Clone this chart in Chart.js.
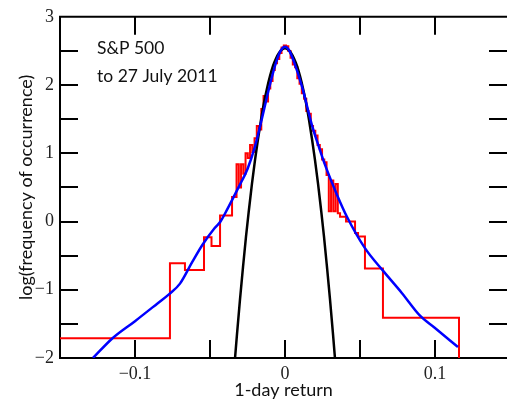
<!DOCTYPE html>
<html>
<head>
<meta charset="utf-8">
<script src="https://cdn.jsdelivr.net/npm/chart.js@4"></script>
<style>
  html, body { margin: 0; padding: 0; background: #fff; }
  #wrap { width: 507px; height: 404px; }
</style>
</head>
<body>
<div id="wrap"><canvas id="c" width="507" height="404"></canvas></div>
<script>
// ------------------------------
// DATA
// ------------------------------

// red histogram: left bin edges and heights (last edge closes the final bin)
const histEdges = [-0.2, -0.0767, -0.0667, -0.054, -0.049, -0.0433,
    -0.0353, -0.0338, -0.0323, -0.0308, -0.0293, -0.0278, -0.0263, -0.0248, -0.0233, -0.0218,
    -0.0203, -0.0188, -0.0173, -0.0158, -0.0143, -0.0128, -0.0113, -0.0098, -0.0083, -0.0068,
    -0.0053, -0.0038, -0.0023, -0.0008, 0.0007, 0.0022, 0.0037, 0.0052, 0.0067, 0.0082,
    0.0097, 0.0112, 0.0127, 0.0142, 0.0157, 0.0172, 0.0187, 0.0202, 0.0217, 0.0232,
    0.0247, 0.0262, 0.0277, 0.0292, 0.0307, 0.0322, 0.0337, 0.0352,
    0.0367, 0.0407, 0.0467, 0.0487, 0.0533, 0.0653, 0.116];
const histValues = [-1.71, -0.61, -0.71, -0.23, -0.36, 0.09,
    0.36, 0.36, 0.84, 0.50, 0.84, 0.70, 1.00, 0.93, 1.12, 1.02,
    1.22, 1.40, 1.35, 1.65, 1.84, 1.76, 1.95, 2.06, 2.22, 2.32,
    2.38, 2.47, 2.55, 2.58, 2.57, 2.50, 2.40, 2.30, 2.26, 2.10,
    2.02, 1.88, 1.80, 1.62, 1.58, 1.40, 1.33, 1.26, 1.12, 1.06,
    0.91, 0.87, 0.68, 0.15, 0.60, 0.15, 0.55, 0.12,
    0.07, 0.00, -0.17, -0.22, -0.69, -1.41, -2.6];

// blue fitted curve
const fitX = [-0.128, -0.115, -0.1, -0.085, -0.077, -0.07, -0.062, -0.055, -0.047, -0.043,
    -0.038, -0.031, -0.025, -0.02, -0.016, -0.0125, -0.0093, -0.006, -0.0027, 0,
    0.0027, 0.006, 0.0113, 0.018, 0.0225, 0.0267, 0.0347, 0.0413, 0.0533, 0.0653,
    0.078, 0.09, 0.1, 0.1153];
const fitY = [-2.0, -1.71, -1.46, -1.2, -1.06, -0.91, -0.6, -0.34, -0.1, 0.0,
    0.2, 0.5, 0.77, 1.1, 1.45, 1.78, 2.07, 2.33, 2.51, 2.56,
    2.51, 2.34, 1.98, 1.41, 1.1, 0.83, 0.39, 0.07, -0.39, -0.72,
    -1.05, -1.38, -1.56, -1.84];

// black gaussian curve
const gaussX = [-0.034, -0.032, -0.03, -0.028, -0.026, -0.024, -0.022, -0.02, -0.018, -0.016,
    -0.014, -0.012, -0.01, -0.008, -0.006, -0.004, -0.002, 0, 0.002, 0.004,
    0.006, 0.008, 0.01, 0.012, 0.014, 0.016, 0.018, 0.02, 0.022, 0.024,
    0.026, 0.028, 0.03, 0.032, 0.034];
const gaussY = [-2.19, -1.65, -1.14, -0.67, -0.22, 0.18, 0.56, 0.90, 1.21, 1.49,
    1.74, 1.95, 2.13, 2.28, 2.39, 2.47, 2.52, 2.54, 2.52, 2.47,
    2.39, 2.28, 2.13, 1.95, 1.74, 1.49, 1.21, 0.90, 0.56, 0.18,
    -0.22, -0.67, -1.14, -1.65, -2.19];

// tick positions and which of them carry a label
const xTicks = [-0.15, -0.1, -0.05, 0, 0.05, 0.1];
const xTickLabels = [-0.1, 0, 0.1];
const yTicks = [-2, -1.5, -1, -0.5, 0, 0.5, 1, 1.5, 2, 2.5, 3];
const yTickLabels = [-2, -1, 0, 1, 2, 3];
const noteLines = ["S&P 500", "to 27 July 2011"];

// ------------------------------
// HELPERS
// ------------------------------

function pairs(xs, ys) {
    return xs.map((x, i) => ({ x: x, y: ys[i] }));
}

function fmt(v) {
    const s = String(Math.abs(v));
    return v < 0 ? "\u2212" + s : s;
}

function labelFor(list) {
    return v => {
        const hit = list.find(t => Math.abs(t - Number(v)) < 1e-4);
        return hit === undefined ? "" : fmt(hit);
    };
}

// inward tick marks on all four sides + top frame line + note text
const framePlugin = {
    id: "frame",
    afterDatasetsDraw(chart) {
        const { ctx, chartArea: a, scales } = chart;
        const len = 18;
        ctx.save();
        ctx.strokeStyle = "#000";
        ctx.lineWidth = 2;
        ctx.beginPath();
        xTicks.forEach(v => {
            const px = Math.round(scales.x.getPixelForValue(v));
            if (px <= a.left + 2 || px >= a.right - 2) return;
            ctx.moveTo(px, a.bottom);
            ctx.lineTo(px, a.bottom - len);
            ctx.moveTo(px, a.top);
            ctx.lineTo(px, a.top + len);
        });
        yTicks.forEach(v => {
            const py = Math.round(scales.y.getPixelForValue(v));
            if (py <= a.top + 2 || py >= a.bottom - 2) return;
            ctx.moveTo(a.left, py);
            ctx.lineTo(a.left + len, py);
            ctx.moveTo(a.right, py);
            ctx.lineTo(a.right - len, py);
        });
        ctx.stroke();
        ctx.beginPath();
        ctx.moveTo(a.left - 1, a.top);
        ctx.lineTo(a.right, a.top);
        ctx.stroke();

        ctx.fillStyle = "#111";
        ctx.font = "17.5px Lato";
        ctx.textBaseline = "alphabetic";
        ctx.fillText(noteLines[0], 97, 54);
        ctx.fillText(noteLines[1], 97, 82);
        ctx.restore();
    }
};

// ------------------------------
// CHART
// ------------------------------

const ctx = document.getElementById("c").getContext("2d");

new Chart(ctx, {
    type: "line",
    data: {
        datasets: [
            {
                label: "fit",
                data: pairs(fitX, fitY),
                borderColor: "#0000ff",
                borderWidth: 2.5,
                pointRadius: 0,
                cubicInterpolationMode: "monotone",
                fill: false
            },
            {
                label: "gaussian",
                data: pairs(gaussX, gaussY),
                borderColor: "#000000",
                borderWidth: 2.5,
                pointRadius: 0,
                cubicInterpolationMode: "monotone",
                fill: false
            },
            {
                label: "histogram",
                data: pairs(histEdges, histValues),
                borderColor: "#ff0000",
                borderWidth: 2,
                pointRadius: 0,
                stepped: "before",
                fill: false
            }
        ]
    },
    options: {
        responsive: false,
        animation: false,
        layout: { padding: { top: 13, right: 0, left: 0, bottom: 0 } },
        plugins: {
            legend: { display: false },
            tooltip: { enabled: false }
        },
        scales: {
            x: {
                type: "linear",
                min: -0.15,
                max: 0.148,
                afterFit(scale) { scale.height = 46; },
                afterBuildTicks(scale) {
                    scale.ticks = xTicks.map(v => ({ value: v }));
                },
                ticks: {
                    autoSkip: false,
                    maxRotation: 0,
                    padding: 5,
                    color: "#222",
                    font: { family: "Liberation Serif", size: 18 },
                    callback: labelFor(xTickLabels)
                },
                grid: { display: false, drawTicks: false },
                border: { display: true, color: "#000", width: 2 },
                title: {
                    display: true,
                    text: "1-day return",
                    color: "#111",
                    font: { family: "Lato", size: 18 },
                    padding: { top: 0, bottom: 3 }
                }
            },
            y: {
                type: "linear",
                min: -2,
                max: 3,
                afterFit(scale) { scale.width = 60; },
                afterBuildTicks(scale) {
                    scale.ticks = yTicks.map(v => ({ value: v }));
                },
                ticks: {
                    autoSkip: false,
                    padding: 6,
                    color: "#222",
                    font: { family: "Liberation Serif", size: 18 },
                    callback: labelFor(yTickLabels)
                },
                grid: { display: false, drawTicks: false },
                border: { display: true, color: "#000", width: 2 },
                title: {
                    display: true,
                    text: "log(frequency of occurrence)",
                    color: "#111",
                    font: { family: "Lato", size: 18 },
                    padding: { top: 15, bottom: 0 }
                }
            }
        }
    },
    plugins: [framePlugin]
});
</script>
</body>
</html>
